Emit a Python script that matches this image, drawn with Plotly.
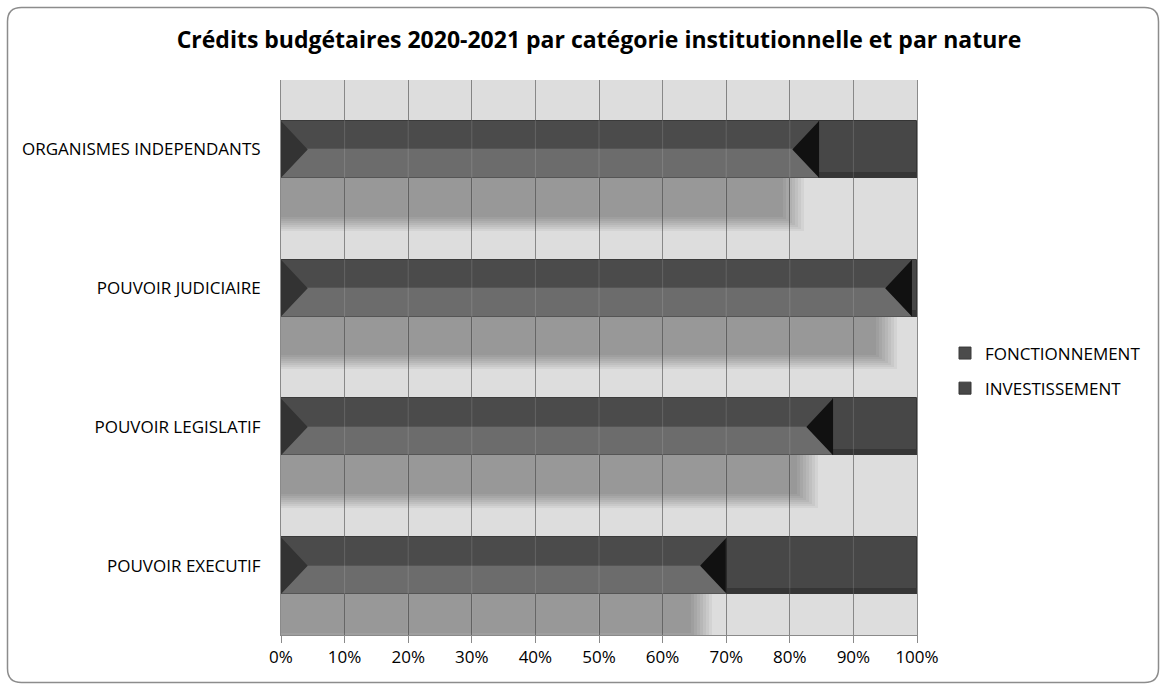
import plotly.graph_objects as go

# Budget split (percent of total credits) by institutional category, bottom to top
categories = [
    "POUVOIR EXECUTIF",
    "POUVOIR LEGISLATIF",
    "POUVOIR JUDICIAIRE",
    "ORGANISMES INDEPENDANTS",
]
fonctionnement = [70.1, 86.8, 99.2, 84.6]
investissement = [29.9, 13.2, 0.8, 15.4]
x_ticks = [0, 10, 20, 30, 40, 50, 60, 70, 80, 90, 100]
x_tick_labels = [f"{v}%" for v in x_ticks]

FONT = "'Open Sans', sans-serif"
pos = list(range(len(categories)))
HALF = 0.205        # half thickness of a bar, in category units
TIP = 4.2           # length of the bevelled bar ends, in percent
SHADOW_SHIFT = 4.0  # floor shadow is slightly shorter than the bar
SHADOW_DEPTH = 0.33

fig = go.Figure()

# soft floor shadow under each bar, built from several translucent layers
steps = 8
for k in range(steps):
    t = (k - (steps - 1) / 2) / ((steps - 1) / 2)   # -1 .. 1
    dx = -1.6 * t
    depth = SHADOW_DEPTH - 0.05 * t
    fig.add_trace(go.Bar(
        orientation="h", y=pos,
        x=[max(f - SHADOW_SHIFT + dx, 0) for f in fonctionnement], base=0,
        width=depth, offset=-HALF - depth,
        marker=dict(color="rgba(0,0,0,0.045)", line=dict(width=0)),
        showlegend=False, hoverinfo="skip",
    ))

# FONCTIONNEMENT: darker upper half and lighter lower half
fig.add_trace(go.Bar(
    orientation="h", y=pos, x=fonctionnement, base=0,
    width=HALF, offset=0, name="FONCTIONNEMENT",
    legendgroup="f",
    marker=dict(color="#4b4b4b", line=dict(color="#3a3a3a", width=1)),
    hoverinfo="skip",
))
fig.add_trace(go.Bar(
    orientation="h", y=pos, x=fonctionnement, base=0,
    width=HALF, offset=-HALF, legendgroup="f",
    marker=dict(color="#6c6c6c", line=dict(color="#555555", width=1)),
    showlegend=False, hoverinfo="skip",
))

# INVESTISSEMENT: stacked after FONCTIONNEMENT
fig.add_trace(go.Bar(
    orientation="h", y=pos, x=investissement, base=fonctionnement,
    width=2 * HALF, offset=-HALF, name="INVESTISSEMENT",
    legendgroup="i",
    marker=dict(color="#474747", line=dict(color="#353535", width=1)),
    hoverinfo="skip",
))
fig.add_trace(go.Bar(
    orientation="h", y=pos, x=investissement, base=fonctionnement,
    width=0.045, offset=-HALF, legendgroup="i",
    marker=dict(color="#363636", line=dict(width=0)),
    showlegend=False, hoverinfo="skip",
))

# bevelled ends of the FONCTIONNEMENT bars
left_x, left_y, right_x, right_y = [], [], [], []
for c, f in zip(pos, fonctionnement):
    left_x += [0, 0, TIP, 0, None]
    left_y += [c - HALF, c + HALF, c, c - HALF, None]
    right_x += [f, f, f - TIP, f, None]
    right_y += [c + HALF, c - HALF, c, c + HALF, None]
fig.add_trace(go.Scatter(
    x=left_x, y=left_y, mode="lines", fill="toself",
    fillcolor="#333333", line=dict(width=0),
    showlegend=False, hoverinfo="skip",
))
fig.add_trace(go.Scatter(
    x=right_x, y=right_y, mode="lines", fill="toself",
    fillcolor="#111111", line=dict(width=0),
    showlegend=False, hoverinfo="skip",
))

# light gridline overlay so the grid reads through the bars
shapes = []
for v in x_ticks[1:-1]:
    shapes.append(dict(
        type="line", xref="x", yref="paper", x0=v, x1=v, y0=0, y1=1,
        line=dict(color="rgba(255,255,255,0.14)", width=1), layer="above",
    ))

# rounded frame around the whole chart
L, T, W, H = 281, 80, 636, 555
def px(x):
    return (x - L) / W
def py(y):
    return (T + H - y) / H
x0, x1, y0, y1 = px(7.5), px(1158.5), py(7.5), py(682.5)
rx, ry = 14 / W, 14 / H
frame = (
    f"M {x0 + rx},{y0} L {x1 - rx},{y0} Q {x1},{y0} {x1},{y0 - ry} "
    f"L {x1},{y1 + ry} Q {x1},{y1} {x1 - rx},{y1} "
    f"L {x0 + rx},{y1} Q {x0},{y1} {x0},{y1 + ry} "
    f"L {x0},{y0 - ry} Q {x0},{y0} {x0 + rx},{y0} Z"
)
shapes.append(dict(
    type="path", xref="paper", yref="paper", path=frame,
    line=dict(color="#8c8c8c", width=1.5), layer="above",
))

fig.update_layout(
    width=1161, height=686,
    margin=dict(l=L, r=1161 - L - W, t=T, b=686 - T - H),
    paper_bgcolor="white", plot_bgcolor="#dddddd",
    barmode="overlay", bargap=0,
    font=dict(family=FONT, size=17, color="#000000"),
    title=dict(
        text="<b>Crédits budgétaires 2020-2021 par catégorie institutionnelle et par nature</b>",
        x=0.5, xref="paper", xanchor="center",
        y=1 - 40 / 686, yref="container", yanchor="middle",
        font=dict(family=FONT, size=23, color="#000000"),
    ),
    xaxis=dict(
        range=[0, 100], tickvals=x_ticks, ticktext=x_tick_labels,
        showgrid=True, gridcolor="#777777", gridwidth=1,
        zeroline=False, showline=True, linecolor="#8a8a8a", linewidth=1,
        ticks="outside", ticklen=7, tickcolor="#8a8a8a",
        tickfont=dict(size=17), fixedrange=True,
    ),
    yaxis=dict(
        range=[-0.5, 3.5], tickvals=pos, ticktext=categories,
        showgrid=False, zeroline=False, showline=True, mirror=True,
        linecolor="#8a8a8a", linewidth=1, ticks="",
        ticklabelstandoff=16, tickfont=dict(size=17), fixedrange=True,
    ),
    legend=dict(
        x=px(945), xanchor="left", y=py(371), yanchor="middle",
        font=dict(family=FONT, size=17, color="#000000"),
        traceorder="grouped", tracegroupgap=10,
        bgcolor="rgba(0,0,0,0)", itemclick=False, itemdoubleclick=False,
    ),
    shapes=shapes,
    showlegend=True,
)

fig.write_html("out.html")
